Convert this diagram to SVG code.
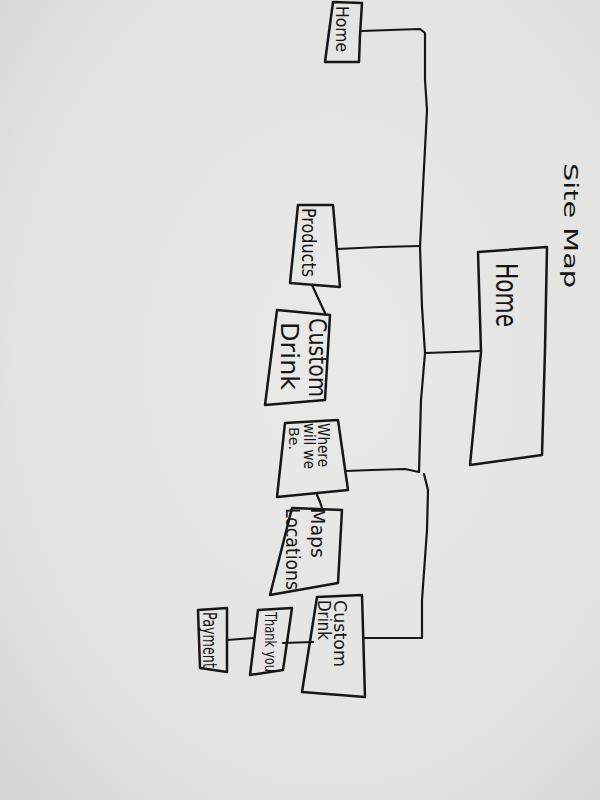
<svg xmlns="http://www.w3.org/2000/svg" width="600" height="800" viewBox="0 0 600 800">
  <defs>
    <radialGradient id="paper" cx="0.55" cy="0.45" r="0.75">
      <stop offset="0" stop-color="#e9e9e7"/>
      <stop offset="0.7" stop-color="#e3e3e1"/>
      <stop offset="1" stop-color="#d5d5d3"/>
    </radialGradient>
    <style>
      .box { fill: none; stroke: #161616; stroke-width: 2.5; stroke-linejoin: round; }
      .wire { fill: none; stroke: #161616; stroke-width: 2.2; stroke-linecap: round; stroke-linejoin: round; }
      .hand { font-family: "DejaVu Sans", "Liberation Sans", sans-serif; fill: #161616; }
    </style>
  </defs>

  <!-- sheet of paper -->
  <rect x="0" y="0" width="600" height="800" fill="url(#paper)"/>

  <!-- title -->
  <text class="hand" transform="translate(564,163) rotate(90)" font-size="20" textLength="125" lengthAdjust="spacingAndGlyphs">Site Map</text>

  <!-- connectors -->
  <g id="connectors">
    <!-- main trunk from the top Home tab -->
    <path class="wire" d="M362,31 L390,30 L420,29 L425,33 L425,80 L427,110 L423,187 L420,247 L422,307 L425,353 L421,400 L419,472"/>
    <!-- trunk to the large Home panel -->
    <path class="wire" d="M425,353 L455,352 L481,351"/>
    <!-- Products branch -->
    <path class="wire" d="M337,249 L380,247 L420,246"/>
    <!-- Where will we be branch -->
    <path class="wire" d="M346,471 L372,470 L405,469 L419,472"/>
    <!-- lower trunk to the second Custom Drink -->
    <path class="wire" d="M424,474 L428,490 L427,530 L422,600 L422,638 L364,638"/>
    <!-- Products to Custom Drink -->
    <path class="wire" d="M312,285 L318,298 L325,313"/>
    <!-- Where will we be to Maps -->
    <path class="wire" d="M317,495 L320,502 L322,508"/>
    <!-- Custom Drink to Thank you -->
    <path class="wire" d="M283,643 L313,642"/>
    <!-- Thank you to Payment -->
    <path class="wire" d="M227,640 L254,638"/>
  </g>

  <g id="home-tab">
    <path class="box" d="M333,2 L362,3 L360,35 L359,62 L325,62 Z"/>
    <text class="hand" transform="translate(336,6) rotate(90)" font-size="17" textLength="46" lengthAdjust="spacingAndGlyphs">Home</text>
  </g>

  <g id="home">
    <path class="box" d="M478,252 L547,247 L545,350 L542,455 L470,465 L481,352 Z"/>
    <text class="hand" transform="translate(496,263) rotate(90)" font-size="30" textLength="64" lengthAdjust="spacingAndGlyphs">Home</text>
  </g>

  <g id="products">
    <path class="box" d="M298,205 L333,205 L340,287 L290,283 Z"/>
    <text class="hand" transform="translate(302,208) rotate(90)" font-size="20" textLength="69" lengthAdjust="spacingAndGlyphs">Products</text>
  </g>

  <g id="custom-drink">
    <path class="box" d="M277,310 L330,315 L325,400 L265,405 Z"/>
    <text class="hand" transform="translate(309,318) rotate(90)" font-size="25" textLength="79" lengthAdjust="spacingAndGlyphs">Custom</text>
    <text class="hand" transform="translate(281,322) rotate(90)" font-size="25" textLength="68" lengthAdjust="spacingAndGlyphs">Drink</text>
  </g>

  <g id="where-will-we-be">
    <path class="box" d="M285,423 L338,420 L348,490 L277,497 Z"/>
    <text class="hand" transform="translate(318,423) rotate(90)" font-size="15" textLength="44" lengthAdjust="spacingAndGlyphs">Where</text>
    <text class="hand" transform="translate(304,423) rotate(90)" font-size="15" textLength="46" lengthAdjust="spacingAndGlyphs">will we</text>
    <text class="hand" transform="translate(289,427) rotate(90)" font-size="14" textLength="23" lengthAdjust="spacingAndGlyphs">Be.</text>
  </g>

  <g id="maps-locations">
    <path class="box" d="M292,508 L342,510 L338,583 L270,595 Z"/>
    <text class="hand" transform="translate(311,508) rotate(90)" font-size="20" textLength="50" lengthAdjust="spacingAndGlyphs">Maps</text>
    <text class="hand" transform="translate(286,508) rotate(90)" font-size="20" textLength="82" lengthAdjust="spacingAndGlyphs">Locations</text>
  </g>

  <g id="custom-drink-order">
    <path class="box" d="M317,597 L362,595 L365,697 L302,692 Z"/>
    <text class="hand" transform="translate(334,600) rotate(90)" font-size="17" textLength="67" lengthAdjust="spacingAndGlyphs">Custom</text>
    <text class="hand" transform="translate(318,600) rotate(90)" font-size="17" textLength="40" lengthAdjust="spacingAndGlyphs">Drink</text>
  </g>

  <g id="thank-you">
    <path class="box" d="M258,610 L292,608 L283,670 L250,675 Z"/>
    <text class="hand" transform="translate(265,612) rotate(90)" font-size="15" textLength="60" lengthAdjust="spacingAndGlyphs">Thank you</text>
  </g>

  <g id="payment">
    <path class="box" d="M198,610 L227,608 L227,672 L200,668 Z"/>
    <text class="hand" transform="translate(203,612) rotate(90)" font-size="19" textLength="56" lengthAdjust="spacingAndGlyphs">Payment</text>
  </g>
</svg>
